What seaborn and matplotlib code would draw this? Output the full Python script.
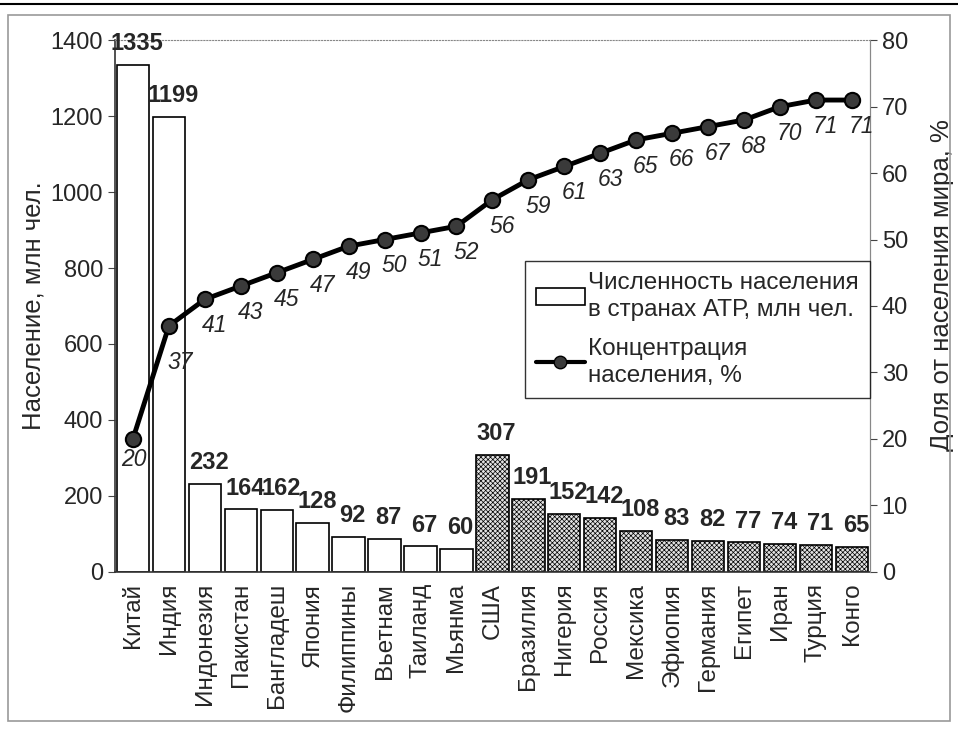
"""Население крупнейших стран и накопленная доля от населения мира."""
import matplotlib.pyplot as plt
import numpy as np
import pandas as pd
import seaborn as sns
from matplotlib.lines import Line2D
from matplotlib.patches import Patch, Rectangle

STRANY = [
    "Китай", "Индия", "Индонезия", "Пакистан", "Бангладеш", "Япония",
    "Филиппины", "Вьетнам", "Таиланд", "Мьянма", "США", "Бразилия",
    "Нигерия", "Россия", "Мексика", "Эфиопия", "Германия", "Египет",
    "Иран", "Турция", "Конго",
]
NASELENIE = [1335, 1199, 232, 164, 162, 128, 92, 87, 67, 60,
             307, 191, 152, 142, 108, 83, 82, 77, 74, 71, 65]
GRUPPA = ["АТР"] * 10 + ["прочие"] * 11
DOLYA = [20, 37, 41, 43, 45, 47, 49, 50, 51, 52, 56,
         59, 61, 63, 65, 66, 67, 68, 70, 71, 71]

sns.set_style("white")
plt.rcParams["font.family"] = ["Liberation Sans", "DejaVu Sans"]
plt.rcParams["hatch.linewidth"] = 0.5

df = pd.DataFrame({"strana": STRANY, "naselenie": NASELENIE,
                   "gruppa": GRUPPA})

fig = plt.figure(figsize=(9.58, 7.32), dpi=100)
ax = fig.add_axes([0.12, 0.219, 0.788, 0.726])

sns.barplot(
    data=df, x="strana", y="naselenie", hue="gruppa",
    palette={"АТР": "white", "прочие": "#e2e2e2"},
    dodge=False, width=0.9, edgecolor="black", linewidth=1.2,
    legend=False, ax=ax,
)
for bar in ax.containers[1]:
    bar.set_hatch("xxxxxxx")

for x, v in enumerate(NASELENIE):
    ax.annotate(str(v), (x, v), xytext=(3, 7), textcoords="offset points",
                ha="center", va="bottom", fontsize=17, fontweight="bold")

ax.set_xlim(-0.5, len(STRANY) - 0.5)
ax.set_ylim(0, 1400)
ax.set_yticks(range(0, 1401, 200))
ax.set_ylabel("Население, млн чел.", fontsize=18.5, labelpad=4)
ax.set_xlabel("")
ax.set_xticks(range(len(STRANY)))
ax.set_xticklabels(STRANY, rotation=90, fontsize=17.5)
ax.set_xticks(np.arange(-0.5, len(STRANY)), minor=True)
ax.tick_params(axis="x", which="major", length=0, pad=8)
ax.tick_params(axis="x", which="minor", length=6, color="#444444")
ax.tick_params(axis="y", length=5, labelsize=17, left=True,
               color="#444444")
for side in ["left", "bottom"]:
    ax.spines[side].set_color("#333333")
    ax.spines[side].set_linewidth(1.2)
ax.spines["top"].set_linestyle(":")
ax.spines["top"].set_color("#888888")
ax.spines["right"].set_color("#888888")

ax2 = ax.twinx()
sns.lineplot(
    x=np.arange(len(DOLYA)), y=DOLYA, color="black", linewidth=3.5,
    marker="o", markersize=11, markerfacecolor="#3a3a3a",
    markeredgecolor="black", markeredgewidth=1.5, ax=ax2,
)
sdvig = {0: (1, -15), 1: (8, -26)}
for x, v in enumerate(DOLYA):
    ax2.annotate(str(v), (x, v), xytext=sdvig.get(x, (7, -19)),
                 textcoords="offset points", ha="center", va="center",
                 fontsize=16.5, fontstyle="italic")
ax2.set_ylim(0, 80)
ax2.set_yticks(range(0, 81, 10))
ax2.tick_params(axis="y", length=5, labelsize=17, right=True,
                color="#444444")
ax2.set_ylabel("Доля от населения мира, %", fontsize=18.5)
ax2.yaxis.set_label_coords(1.08, 0.54)
for side in ["left", "top", "bottom"]:
    ax2.spines[side].set_visible(False)
ax2.spines["right"].set_color("#888888")

ruchki = [
    Patch(facecolor="white", edgecolor="black", linewidth=1.2),
    Line2D([0], [0], color="black", linewidth=3, marker="o",
           markersize=9, markerfacecolor="#3a3a3a",
           markeredgecolor="black"),
]
leg = ax2.legend(
    ruchki,
    ["Численность населения\nв странах АТР, млн чел.",
     "Концентрация\nнаселения, %"],
    loc="upper right", bbox_to_anchor=(1.0, 0.585), fontsize=17.5,
    frameon=True, fancybox=False, edgecolor="black", handlelength=2.0,
    handletextpad=0.15, labelspacing=0.7, borderpad=0.45,
    borderaxespad=0.0,
)
for t in leg.get_texts():
    t.set_linespacing(1.3)
leg.get_frame().set_linewidth(1.0)

fig.patches.append(Rectangle((0.008, 0.015), 0.984, 0.965,
                             transform=fig.transFigure, fill=False,
                             edgecolor="#999999", linewidth=1.2))
fig.lines.append(Line2D([0, 1], [0.994, 0.994], transform=fig.transFigure,
                        color="black", linewidth=1.5))

fig.savefig("out.png", dpi=100)
